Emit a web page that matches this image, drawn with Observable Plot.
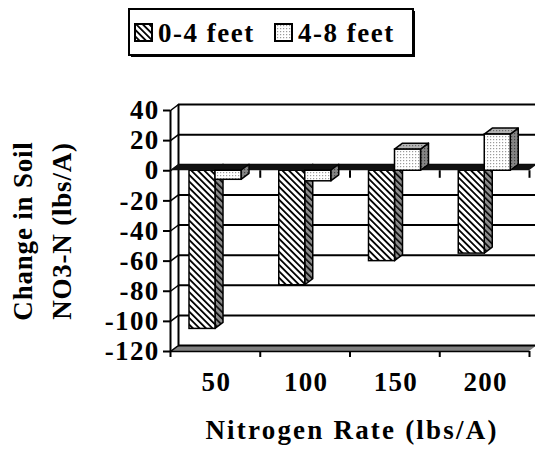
<!DOCTYPE html>
<html><head><meta charset="utf-8">
<script src="https://cdn.jsdelivr.net/npm/d3@7"></script>
<script src="https://cdn.jsdelivr.net/npm/@observablehq/plot@0.6"></script>
<style>
body{margin:0;background:#fff;}
#wrap{position:relative;width:535px;height:451px;overflow:hidden;}
#legend{position:absolute;left:0;top:0;}
#wrap text{font-family:"Liberation Serif","Times New Roman",serif !important;font-weight:bold;font-variant:normal !important;}
</style>
</head><body>
<div id="wrap">
<svg id="legend" width="535" height="62" xmlns="http://www.w3.org/2000/svg">
  <defs>
    <pattern id="hatch" patternUnits="userSpaceOnUse" width="4.6" height="4.6" patternTransform="rotate(-45)">
      <rect width="4.6" height="4.6" fill="#fff"/><rect width="1.8" height="4.6" fill="#000"/>
    </pattern>
    <pattern id="hatchSide" patternUnits="userSpaceOnUse" width="4.6" height="4.6" patternTransform="rotate(-45)">
      <rect width="4.6" height="4.6" fill="#8c8c8c"/><rect width="1.6" height="4.6" fill="#000"/>
    </pattern>
    <pattern id="dots" patternUnits="userSpaceOnUse" width="3" height="3">
      <rect width="3" height="3" fill="#fff"/><rect x="1" y="1" width="1.2" height="1.2" fill="#9a9a9a"/>
    </pattern>
    <pattern id="dotsTop" patternUnits="userSpaceOnUse" width="3" height="3">
      <rect width="3" height="3" fill="#b4b4b4"/><rect x="1" y="1" width="1.2" height="1.2" fill="#6a6a6a"/>
    </pattern>
    <pattern id="dotsSide" patternUnits="userSpaceOnUse" width="3" height="3">
      <rect width="3" height="3" fill="#848484"/><rect x="1" y="1" width="1.2" height="1.2" fill="#444"/>
    </pattern>
  </defs>
  <rect x="131" y="11" width="284" height="46" fill="#000"/>
  <rect x="129" y="9" width="284" height="46" fill="#fff" stroke="#000" stroke-width="2"/>
  <rect x="135" y="24" width="17" height="17" fill="url(#hatch)" stroke="#000" stroke-width="2"/>
  <text x="158" y="42" font-size="27" letter-spacing="1.5">0-4 feet</text>
  <rect x="275" y="24" width="17" height="17" fill="url(#dots)" stroke="#000" stroke-width="2"/>
  <text x="298" y="42" font-size="27" letter-spacing="1.5">4-8 feet</text>
</svg>
</div>
<script>
// ---- data ----
const rates = ["50", "100", "150", "200"];          // Nitrogen rate (lbs/A)
const shallow = [-105, -76, -60, -55];              // 0-4 feet change in NO3-N
const deep = [-6, -7, 14, 24];                      // 4-8 feet change in NO3-N
const yTicks = [-120, -100, -80, -60, -40, -20, 0, 20, 40];

// ---- layout constants ----
const W = 535, H = 451, mL = 170, mR = 6, mT = 110, mB = 100;
const catPx = (W - mL - mR) / rates.length;
const pxPerUnit = (H - mT - mB) / 160;
const DX = 8 / catPx;          // 3D depth in x units
const DY = 6 / pxPerUnit;      // 3D depth in y units
const N = rates.length;
const FONT = '"Liberation Serif", "Times New Roman", serif';

const bars = [];
rates.forEach((r, i) => {
  bars.push({s: 0, id: "a" + i, x1: i + 19 / catPx, x2: i + 45 / catPx, v: shallow[i]});
  bars.push({s: 1, id: "b" + i, x1: i + 45 / catPx, x2: i + 71 / catPx, v: deep[i]});
});
const sideFace = s => bars.filter(b => b.s === s).flatMap(b => [
  {id: b.id, x: b.x2, y1: 0, y2: b.v},
  {id: b.id, x: b.x2 + DX, y1: DY, y2: b.v + DY}
]);
const topFace = s => bars.filter(b => b.s === s && b.v > 0).flatMap(b => [
  {id: b.id, y: b.v, x1: b.x1, x2: b.x2},
  {id: b.id, y: b.v + DY, x1: b.x1 + DX, x2: b.x2 + DX}
]);
const plane = y0 => [{y: y0, x1: 0, x2: N}, {y: y0 + DY, x1: DX, x2: N + DX}];

const chart = Plot.plot({
  width: W, height: H,
  marginLeft: mL, marginRight: mR, marginTop: mT, marginBottom: mB,
  x: {domain: [0, N], axis: null},
  y: {domain: [-120, 40], axis: null},
  style: {fontFamily: FONT, fontWeight: "bold", fontSize: "27px", background: "transparent", overflow: "visible"},
  marks: [
    // floor
    Plot.areaX(plane(-120), {y: "y", x1: "x1", x2: "x2", fill: "#808080"}),
    // back wall gridlines
    Plot.ruleY(yTicks, {y: d => d + DY, x1: DX, x2: N + DX, strokeWidth: 2, stroke: "#000"}),
    // side wall
    Plot.ruleX([DX], {y1: -120 + DY, y2: 40 + DY, strokeWidth: 2}),
    Plot.link(yTicks, {x1: 0, x2: DX, y1: d => d, y2: d => d + DY, strokeWidth: 1.5}),
    Plot.ruleX([0], {y1: -120, y2: 40, strokeWidth: 2}),
    Plot.ruleY([-120], {x1: 0, x2: N, strokeWidth: 1.5}),
    // axes
    Plot.axisX(d3.range(N + 1), {tickSize: 6, tickFormat: () => "", strokeWidth: 2, label: null}),
    Plot.axisX(d3.range(N).map(i => i + 0.5), {tickSize: 0, tickPadding: 20, tickFormat: d => rates[Math.floor(d)], label: null, fontSize: 27, fontFamily: FONT, fontWeight: "bold", dx: 1}),
    Plot.axisY(yTicks, {tickSize: 7, tickPadding: 4, tickFormat: d => String(d), strokeWidth: 2, label: null, fontSize: 27, fontFamily: FONT, fontWeight: "bold"}),
    // 0-4 feet bars
    Plot.areaY(sideFace(0), {x: "x", y1: "y1", y2: "y2", z: "id", fill: "url(#hatchSide)", stroke: "#000", strokeWidth: 1.5}),
    Plot.rect(bars.filter(b => b.s === 0), {x1: "x1", x2: "x2", y1: 0, y2: "v", fill: "url(#hatch)", stroke: "#000", strokeWidth: 1.5}),
    // zero plane
    Plot.areaX(plane(0), {y: "y", x1: "x1", x2: "x2", fill: "#111"}),
    Plot.ruleX(d3.range(1, N + 1), {y1: 0, y2: -5, strokeWidth: 2}),
    // 4-8 feet bars
    Plot.areaY(sideFace(1), {x: "x", y1: "y1", y2: "y2", z: "id", fill: "url(#dotsSide)", stroke: "#000", strokeWidth: 1.5}),
    Plot.areaX(topFace(1), {y: "y", x1: "x1", x2: "x2", z: "id", fill: "url(#dotsTop)", stroke: "#000", strokeWidth: 1.5}),
    Plot.rect(bars.filter(b => b.s === 1), {x1: "x1", x2: "x2", y1: 0, y2: "v", fill: "url(#dots)", stroke: "#000", strokeWidth: 1.5}),
    // titles
    Plot.text(["Change in Soil"], {frameAnchor: "left", dx: -139, rotate: -90, lineAnchor: "bottom", textAnchor: "middle", fontSize: 27, fontWeight: "bold", fontFamily: FONT}),
    Plot.text(["NO3-N (lbs/A)"], {frameAnchor: "left", dx: -100, rotate: -90, lineAnchor: "bottom", textAnchor: "middle", fontSize: 27, fontWeight: "bold", fontFamily: FONT}),
    Plot.text(["Nitrogen Rate (lbs/A)"], {frameAnchor: "bottom", dx: 2, dy: 87, lineAnchor: "bottom", textAnchor: "middle", fontSize: 27, fontWeight: "bold", fontFamily: FONT})
  ]
});
// letter spacing to match the reference's wide type
const spacing = {"Change in Soil": 0.8, "NO3-N (lbs/A)": 0.8, "Nitrogen Rate (lbs/A)": 2.2};
chart.querySelectorAll("text").forEach(t => {
  const s = spacing[t.textContent];
  t.style.letterSpacing = (s !== undefined ? s : 1.3) + "px";
});
chart.style.position = "absolute";
chart.style.left = "0";
chart.style.top = "0";
const wrap = document.getElementById("wrap");
wrap.insertBefore(chart, document.getElementById("legend"));
</script>
</body></html>
